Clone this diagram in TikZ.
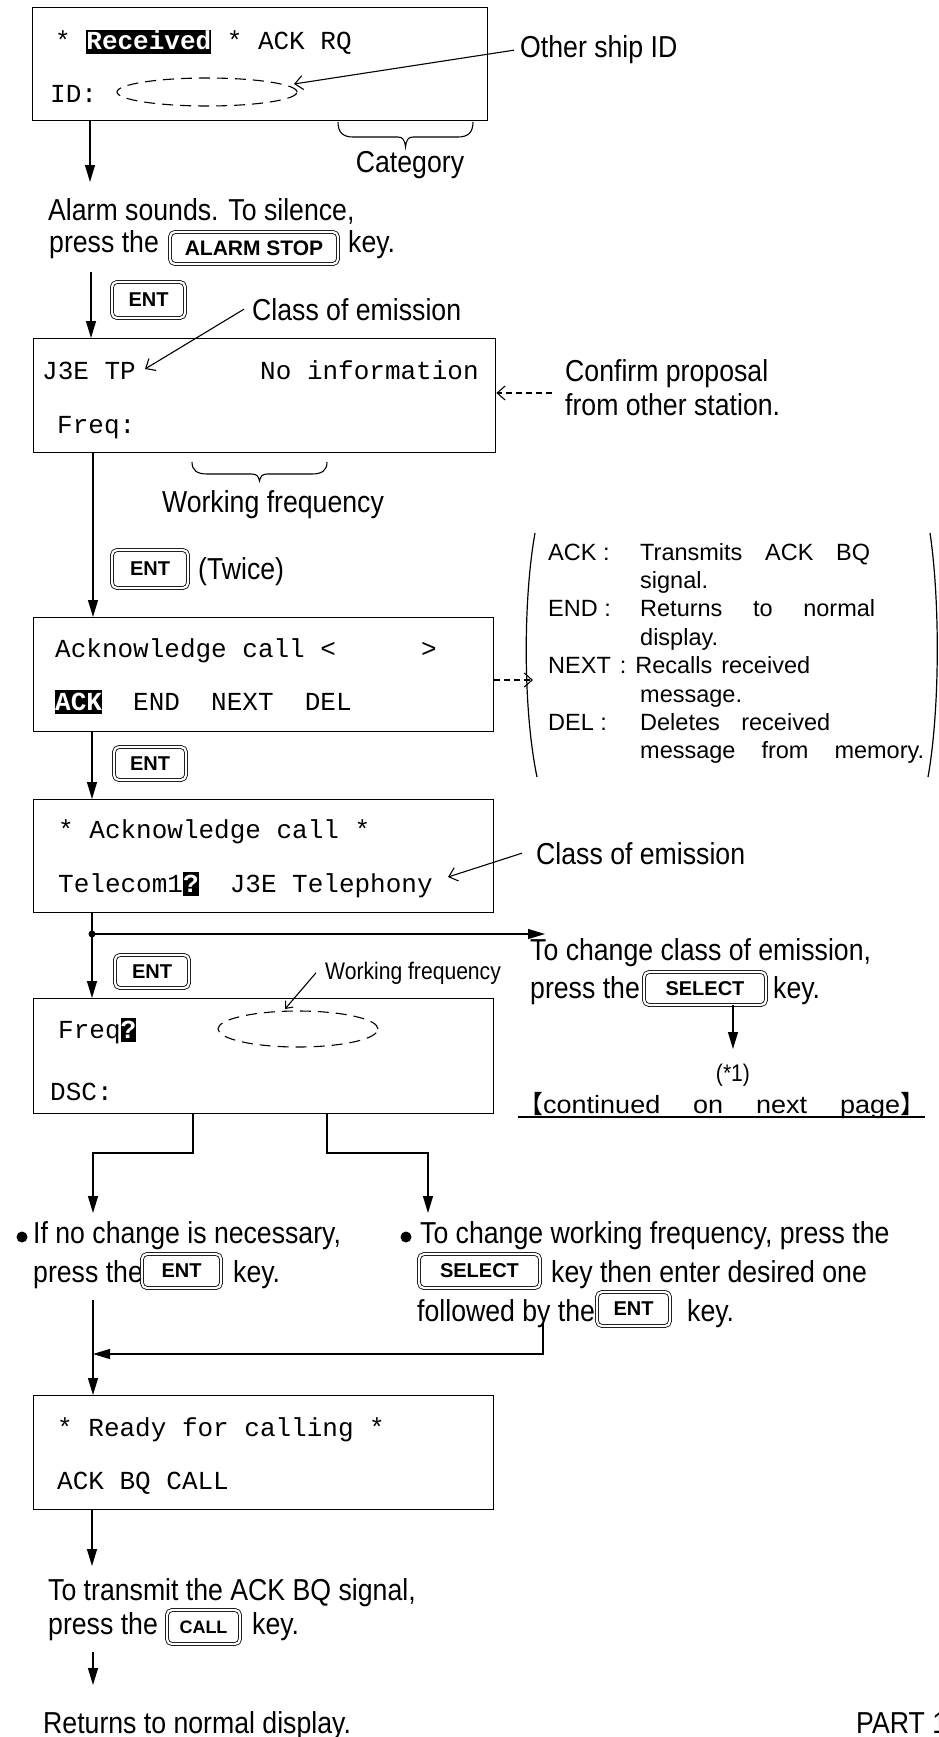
\documentclass[tikz,border=0pt]{standalone}
\usepackage{fontspec}
\setmainfont{Liberation Sans}
\newfontfamily\lab[FakeStretch=0.88]{Liberation Sans}
\newfontfamily\keyfam{Liberation Sans}
\newfontfamily\lcdfont{Liberation Mono}
\newfontfamily\brk{Liberation Sans}
\newfontfamily\contfont[FakeStretch=1.08]{Liberation Sans}
\newfontfamily\cjkfont{Noto Sans CJK JP}
\usetikzlibrary{arrows.meta,shapes.geometric}
\newcommand\keyfont{\keyfam\bfseries\fontsize{20}{24}\selectfont}
\newcommand\hl[1]{{\setlength{\fboxsep}{0pt}\colorbox{black}{\rule[-4pt]{0pt}{24pt}\textcolor{white}{\bfseries #1}}}}
% x1 x2 ytop ymid ybot
\newcommand\downbrace[5]{\draw[line width=1.1pt] (#1,#3) .. controls (#1,{#3+0.7*(#4-#3)}) and ({#1+5},#4) .. ({#1+15},#4) -- ({(#1+#2)/2-8},#4) .. controls ({(#1+#2)/2-3},#4) and ({(#1+#2)/2-1},{#4+2}) .. ({(#1+#2)/2},#5) .. controls ({(#1+#2)/2+1},{#4+2}) and ({(#1+#2)/2+3},#4) .. ({(#1+#2)/2+8},#4) -- ({#2-15},#4) .. controls ({#2-5},#4) and (#2,{#3+0.7*(#4-#3)}) .. (#2,#3);}
\begin{document}
\begin{tikzpicture}[x=1pt,y=-1pt,
 lcd/.style={draw, line width=1.3pt, anchor=north west, inner sep=0pt},
 flow/.style={line width=1.2pt, -{Triangle[length=17pt,width=10pt]}},
 pointer/.style={line width=1.1pt, -{Straight Barb[length=8pt,width=14pt]}},
 dpointer/.style={pointer, dash pattern=on 6pt off 4pt},
 key/.style={draw, double, double distance=2.2pt, line width=0.8pt, rounded corners=5pt, inner sep=0pt, font=\keyfont},
 lbl/.style={anchor=base west, inner sep=0pt, font=\lab\fontsize{30.3}{35}\selectfont},
 mono/.style={anchor=base west, inner sep=0pt, font=\lcdfont\fontsize{26}{30}\selectfont},
 note/.style={anchor=base west, inner sep=0pt, font=\brk\fontsize{23.5}{27}\selectfont},
 dashell/.style={draw, ellipse, dash pattern=on 11pt off 7pt, line width=1.1pt, inner sep=0pt},
 bullet/.style={circle, fill, inner sep=0pt, minimum size=11pt},
]
\useasboundingbox (0,0) rectangle (938,1737);

% ---------- box 1
\node[lcd, minimum width=455pt, minimum height=113pt] (b1) at (32,7) {};
\node[mono] (b1l1) at (55,50) {* \hl{Received} * ACK RQ};
\node[mono] (b1l2) at (50,102) {ID:};
\node[dashell, minimum width=180pt, minimum height=28pt] (e1) at (207,92) {};
\node[lbl] (oid) at (520,58) {Other ship ID};
\coordinate (oidt) at (294,84);
\draw[pointer] ([xshift=-6pt]oid.west) -- (oidt);
\downbrace{338}{473}{122}{137}{147}
\node[lbl, anchor=base] (cat) at (410,172) {Category};

\coordinate (f1e) at (90,182);
\draw[flow] (b1.south west -| f1e) -- (f1e);
\node[lbl] (al1) at (48,220) {Alarm sounds. To silence,};
\node[lbl] (al2) at (49,252) {press the};
\node[key, minimum width=168pt, minimum height=32pt, font=\keyfam\bfseries\fontsize{21}{24}\selectfont] (kal) at (254,248) {ALARM STOP};
\node[lbl] (al3) at (348,252) {key.};

% ---------- box 2
\coordinate (f2s) at (91,272);
\node[lcd, minimum width=462pt, minimum height=114pt] (b2) at (33,338) {};
\draw[flow] (f2s) -- (f2s |- b2.north);
\node[key, minimum width=73pt, minimum height=36pt] (k1) at (148.5,300) {ENT};
\node[lbl] (coe1) at (252,320) {Class of emission};
\coordinate (coe1t) at (145,369);
\draw[pointer] ([xshift=-8pt]coe1.west) -- (coe1t);
\node[mono] (b2l1) at (42,379) {J3E TP};
\node[mono] (b2l1r) at (260,379) {No information};
\node[mono] (b2l2) at (57,433) {Freq:};
\node[lbl] (cp1) at (565,381) {Confirm proposal};
\node[lbl] (cp2) at (565,415) {from other station.};
\coordinate (cps) at (552,393);
\draw[dpointer] (cps) -- (cps -| b2.east);
\downbrace{192}{327}{462}{474}{481}
\node[lbl, anchor=base] (wf1) at (273,512) {Working frequency};

% ---------- box 3
\node[lcd, minimum width=460pt, minimum height=114pt] (b3) at (33,617) {};
\draw[flow] ([xshift=60pt]b2.south west) -- ([xshift=60pt]b3.north west);
\node[key, minimum width=76pt, minimum height=38pt] (k2) at (150,569) {ENT};
\node[lbl] (tw) at (198,579) {(Twice)};
\node[mono] (b3l1) at (55,657) {Acknowledge call <};
\node[mono] (b3l1r) at (421,657) {>};
\node[mono] (b3l2) at (55,710) {\hl{ACK}\ \ END\ \ NEXT\ \ DEL};
\coordinate (parl) at (533,680);
\draw[dpointer] (b3.east |- parl) -- (parl);
\draw[line width=1.2pt] (535,533) .. controls (523,600) and (523,710) .. (537,777);
\draw[line width=1.2pt] (930,533) .. controls (940,600) and (940,710) .. (928,777);
\node[note] (n1) at (548,560) {ACK :};
\node[note] (n1d) at (640,560) {\makebox[230pt][s]{Transmits ACK BQ}};
\node[note] (n2) at (640,588.4) {signal.};
\node[note] (n3) at (548,616.8) {END :};
\node[note] (n3d) at (640,616.8) {\makebox[235pt][s]{Returns to normal}};
\node[note] (n4) at (640,645.2) {display.};
\node[note] (n5) at (548,673.6) {\makebox[262pt][s]{NEXT : Recalls received}};
\node[note] (n6) at (640,702) {message.};
\node[note] (n7) at (548,730.4) {DEL :};
\node[note] (n7d) at (640,730.4) {\makebox[190pt][s]{Deletes received}};
\node[note] (n8) at (640,758.8) {\makebox[284pt][s]{message from memory.}};

% ---------- box 4
\node[lcd, minimum width=460pt, minimum height=113pt] (b4) at (33,799) {};
\draw[flow] ([xshift=59pt]b3.south west) -- ([xshift=59pt]b4.north west);
\node[key, minimum width=72pt, minimum height=33pt] (k3) at (150,763.5) {ENT};
\node[mono] (b4l1) at (58,838) {* Acknowledge call *};
\node[mono] (b4l2) at (58,892) {Telecom1\hl{?}\ \ J3E Telephony};
\node[lbl] (coe2) at (536,864) {Class of emission};
\coordinate (coe2t) at (448,877);
\draw[pointer] ([xshift=-14pt]coe2.west) -- (coe2t);

% ---------- box 5
\node[lcd, minimum width=460pt, minimum height=115pt] (b5) at (33,998) {};
\draw[flow] ([xshift=59pt]b4.south west) -- ([xshift=59pt]b5.north west);
\node[circle, fill, inner sep=0pt, minimum size=7pt] (dot) at (92,934) {};
\coordinate (hre) at (545,934);
\draw[flow] (dot.center) -- (hre);
\node[key, minimum width=74pt, minimum height=33pt] (k4) at (152,971.5) {ENT};
\node[lbl, font=\lab\fontsize{24}{28}\selectfont] (wf2) at (325,979) {Working frequency};
\coordinate (wf2t) at (285,1009);
\draw[pointer, -{Straight Barb[length=6pt,width=10pt]}] ([xshift=-9pt]wf2.west) -- (wf2t);
\node[mono] (b5l1) at (58,1038) {Freq\hl{?}};
\node[mono] (b5l2) at (50,1100) {DSC:};
\node[dashell, minimum width=160pt, minimum height=36pt] (e2) at (298,1029) {};

\node[lbl] (tc1) at (530,960) {To change class of emission,};
\node[lbl] (tc2) at (530,998) {press the};
\node[key, minimum width=122pt, minimum height=33pt, font=\keyfam\bfseries\fontsize{20}{24}\selectfont] (ks1) at (705,988.5) {SELECT};
\node[lbl] (tc3) at (773,998) {key.};
\coordinate (s1e) at (733,1049);
\draw[flow] (ks1.south -| s1e) -- (s1e);
\node[lbl, anchor=base, font=\lab\fontsize{24}{28}\selectfont] (star) at (733,1081) {(*1)};
\node[anchor=base west, inner sep=0pt, font=\contfont\fontsize{25}{30}\selectfont] (cont) at (518,1113) {\makebox[407pt][s]{{\cjkfont 【}continued on next page{\cjkfont 】}}};
\draw[line width=1.3pt] ([yshift=-4pt]cont.base west) -- ([yshift=-4pt]cont.base east);

% ---------- branches
\coordinate (lb) at (93,1153);
\coordinate (rb) at (428,1153);
\coordinate (lbe) at (93,1213);
\coordinate (rbe) at (428,1213);
\draw[flow] ([xshift=160pt]b5.south west) |- (lb) -- (lbe);
\draw[flow] ([xshift=294pt]b5.south west) |- (rb) -- (rbe);

\node[bullet] (bl1) at (22,1237) {};
\node[lbl] (ln1) at (33,1243) {If no change is necessary,};
\node[lbl] (ln2) at (33,1282) {press the};
\node[key, minimum width=79pt, minimum height=34pt] (k5) at (181.5,1271) {ENT};
\node[lbl] (ln3) at (233,1282) {key.};

\node[bullet] (bl2) at (406,1237) {};
\node[lbl] (rn1) at (420,1243) {To change working frequency, press the};
\node[key, minimum width=121pt, minimum height=34pt, font=\keyfam\bfseries\fontsize{20}{24}\selectfont] (ks2) at (479.5,1271) {SELECT};
\node[lbl] (rn2) at (551,1282) {key then enter desired one};
\node[lbl] (rn3) at (417,1321) {followed by the};
\node[key, minimum width=73pt, minimum height=34pt] (k6) at (633.5,1309) {ENT};
\node[lbl] (rn4) at (687,1321) {key.};

% ---------- box 6
\node[lcd, minimum width=460pt, minimum height=114pt] (b6) at (33,1395) {};
\coordinate (f8s) at (93,1300);
\draw[flow] (f8s) -- (f8s |- b6.north);
\coordinate (f9s) at (543,1323);
\coordinate (f9c) at (543,1354);
\draw[flow] (f9s) -- (f9c) -- (f9c -| f8s);
\node[mono] (b6l1) at (57,1436) {* Ready for calling *};
\node[mono] (b6l2) at (57,1489) {ACK BQ CALL};

\coordinate (f10e) at (92,1566);
\draw[flow] (b6.south -| f10e) -- (f10e);
\node[lbl] (tt1) at (48,1600) {To transmit the ACK BQ signal,};
\node[lbl] (tt2) at (48,1634) {press the};
\node[key, minimum width=73pt, minimum height=34pt, font=\keyfam\bfseries\fontsize{18}{22}\selectfont] (kc) at (203.5,1627) {CALL};
\node[lbl] (tt3) at (252,1634) {key.};
\coordinate (f11s) at (93,1652);
\coordinate (f11e) at (93,1685);
\draw[flow] (f11s) -- (f11e);
\node[lbl] (ret) at (43,1733) {Returns to normal display.};
\node[lbl] (part) at (856,1733) {PART 1};
\end{tikzpicture}
\end{document}
